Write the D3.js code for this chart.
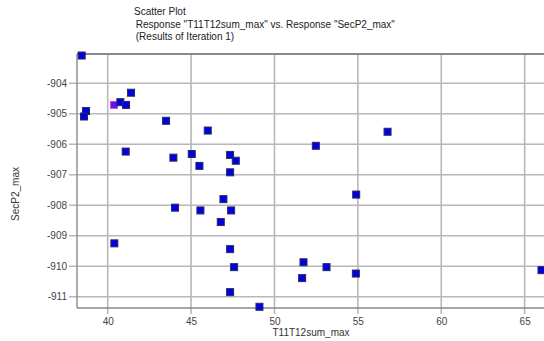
<!DOCTYPE html>
<html>
<head>
<meta charset="utf-8">
<script src="https://cdn.jsdelivr.net/npm/d3@7"></script>
<style>
  html, body { margin: 0; padding: 0; background: #fff; }
  svg { display: block; font-family: "Liberation Sans", Arial, sans-serif; }
</style>
</head>
<body>
<svg id="chart" width="544" height="341"></svg>
<script>
// Response values per design (iteration 1)
const t11t12SumMax = [38.44, 38.70, 38.58, 40.38, 40.76, 41.10, 41.40, 43.50, 41.08, 43.94,
                      45.04, 46.00, 45.50, 47.34, 47.68, 47.34, 46.94, 44.04, 45.56, 47.40,
                      46.78, 40.40, 47.34, 47.58, 47.34, 49.10, 56.78, 52.48, 54.90, 51.74,
                      51.66, 53.12, 54.88, 66.01];
const secP2Max     = [-903.09, -904.91, -905.09, -904.71, -904.62, -904.71, -904.31, -905.23, -906.24, -906.44,
                      -906.32, -905.55, -906.71, -906.35, -906.54, -906.92, -907.80, -908.08, -908.17, -908.17,
                      -908.55, -909.25, -909.44, -910.03, -910.85, -911.33, -905.59, -906.05, -907.65, -909.87,
                      -910.39, -910.03, -910.24, -910.13];
// Index of the design that is currently selected
const selectedIndex = [3];

const xTicks = [40, 45, 50, 55, 60, 65];
const yTicks = [-904, -905, -906, -907, -908, -909, -910, -911];
const titleLines = ["Scatter Plot", " Response \"T11T12sum_max\" vs. Response \"SecP2_max\"", " (Results of Iteration 1)"];
const xLabel = "T11T12sum_max";
const yLabel = "SecP2_max";

const svg = d3.select("#chart");

const plotL = 77, plotT = 54, plotB = 308, plotR = 548;
const x = d3.scaleLinear().domain([38.16, 66.4]).range([plotL, plotR]);
const y = d3.scaleLinear().domain([-911.37, -903.04]).range([plotB, plotT]);

// Title block
svg.append("g").selectAll("text").data(titleLines).join("text")
  .attr("x", (d, i) => i === 0 ? 134 : 133)
  .attr("y", (d, i) => 15 + i * 12.5)
  .attr("font-size", 10)
  .attr("fill", "#222")
  .attr("xml:space", "preserve")
  .style("white-space", "pre")
  .text(d => d);

// Grid lines
const grid = svg.append("g");
grid.selectAll("line.gx").data(xTicks).join("line")
  .attr("class", "gx")
  .attr("x1", d => x(d)).attr("x2", d => x(d))
  .attr("y1", plotT).attr("y2", plotB + 6)
  .attr("stroke", "#b8b8b8").attr("stroke-width", 1.6);
grid.selectAll("line.gy").data(yTicks).join("line")
  .attr("class", "gy")
  .attr("x1", plotL - 8).attr("x2", plotR)
  .attr("y1", d => y(d)).attr("y2", d => y(d))
  .attr("stroke", "#b8b8b8").attr("stroke-width", 1.6);

// Frame: top, left and bottom edges
svg.append("line").attr("x1", plotL).attr("x2", plotR).attr("y1", plotT).attr("y2", plotT)
  .attr("stroke", "#8a8a8a").attr("stroke-width", 2);
svg.append("line").attr("x1", plotL).attr("x2", plotL).attr("y1", plotT).attr("y2", plotB)
  .attr("stroke", "#8a8a8a").attr("stroke-width", 1.4);
svg.append("line").attr("x1", plotL).attr("x2", plotR).attr("y1", plotB).attr("y2", plotB)
  .attr("stroke", "#8a8a8a").attr("stroke-width", 1.4);

// Axes labels via d3 axes (no domain path; grid draws the tick lines)
const xAxis = svg.append("g").attr("transform", `translate(0,${plotB})`)
  .call(d3.axisBottom(x).tickValues(xTicks).tickSize(0).tickPadding(10).tickFormat(d3.format("d")));
const yAxis = svg.append("g").attr("transform", `translate(${plotL},0)`)
  .call(d3.axisLeft(y).tickValues(yTicks).tickSize(0).tickPadding(10).tickFormat(d => String(d)));
[xAxis, yAxis].forEach(a => {
  a.select(".domain").remove();
  a.selectAll("text").attr("font-size", 10).attr("fill", "#444")
    .attr("font-family", "Liberation Sans, Arial, sans-serif");
});

// Axis titles
svg.append("text").attr("x", 311).attr("y", 336).attr("text-anchor", "middle")
  .attr("font-size", 10).attr("fill", "#333").text(xLabel);
svg.append("text").attr("transform", "translate(19,194) rotate(-90)").attr("text-anchor", "middle")
  .attr("font-size", 10).attr("fill", "#333").text(yLabel);

// Points
const pts = t11t12SumMax.map((v, i) => ({ xv: v, yv: secP2Max[i], sel: selectedIndex.includes(i) }));
const s = 7;
svg.append("g").selectAll("rect").data(pts).join("rect")
  .attr("x", d => x(d.xv) - s / 2)
  .attr("y", d => y(d.yv) - s / 2)
  .attr("width", s).attr("height", s)
  .attr("fill", d => d.sel ? "#5a16e8" : "#0000e6")
  .attr("stroke", d => d.sel ? "#e040e0" : "#2a2a5a")
  .attr("stroke-width", 1);
</script>
</body>
</html>
